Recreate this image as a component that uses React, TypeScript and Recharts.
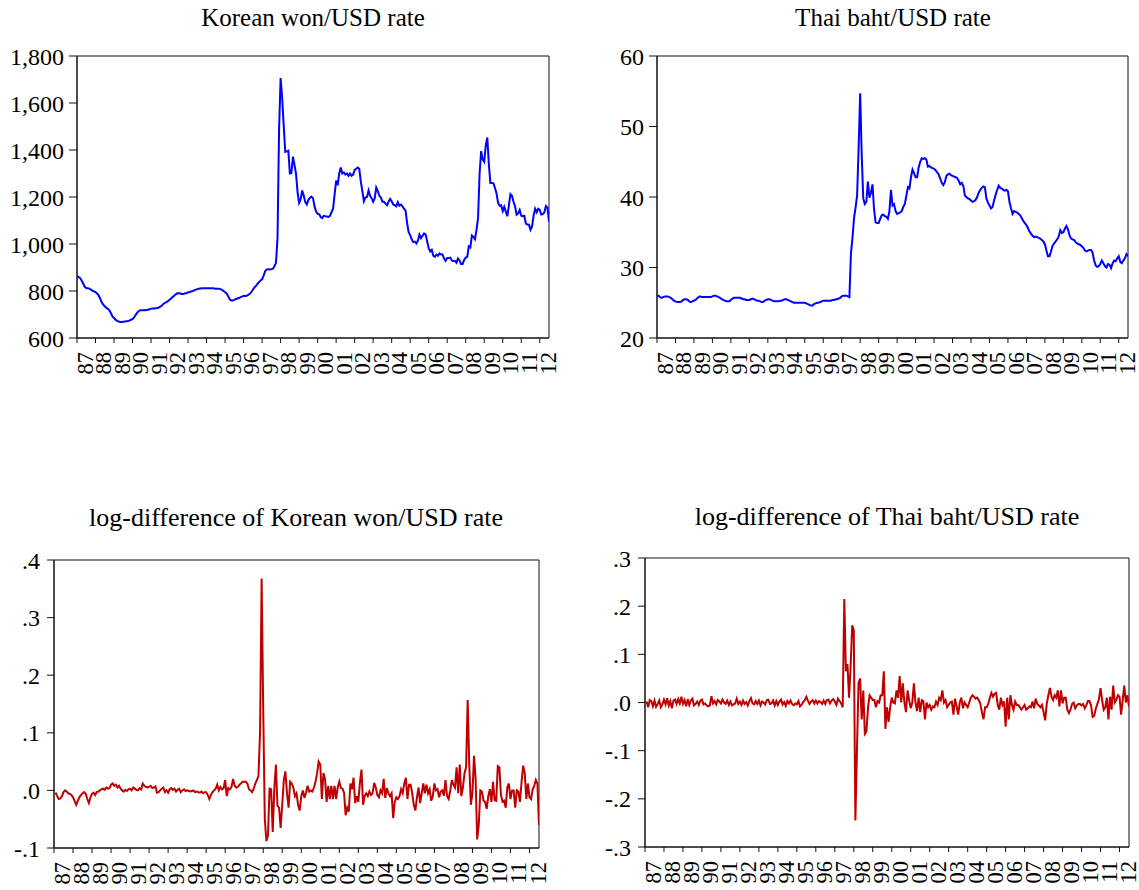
import React from 'react';
import { LineChart, Line, XAxis, YAxis, ReferenceArea } from 'recharts';

const FONT = '"Liberation Serif", "Times New Roman", serif';

const yearLabels = ['87','88','89','90','91','92','93','94','95','96','97','98','99','00','01','02','03','04','05','06','07','08','09','10','11','12'];
const yearTicks = [0,12,24,36,48,60,72,84,96,108,120,132,144,156,168,180,192,204,216,228,240,252,264,276,288,300];

// Korean won / USD, monthly 1987M01 - 2012M07
const krwLevel = [
  862,860,855,845,832,818,813,812,810,806,802,798,
  795,790,782,768,752,742,735,728,724,718,705,692,
  685,678,673,670,668,668,669,670,671,672,674,678,
  680,688,698,708,714,718,718,718,718,719,720,722,
  725,726,726,727,728,730,733,738,745,750,753,757,
  763,768,774,780,786,790,790,789,787,787,790,790,
  795,796,798,800,803,806,808,810,811,812,812,812,
  812,812,812,812,812,811,810,810,810,808,805,800,
  795,790,778,765,760,760,762,766,768,770,774,776,
  780,779,780,783,788,795,805,815,822,830,838,845,
  850,865,885,892,893,892,893,895,905,920,1025,1484,
  1706,1623,1505,1392,1394,1397,1300,1302,1372,1336,1298,1220,
  1175,1190,1228,1205,1178,1168,1188,1196,1202,1195,1160,1138,
  1128,1127,1115,1110,1120,1118,1117,1115,1120,1135,1150,1210,
  1270,1250,1300,1326,1300,1305,1295,1300,1290,1300,1290,1295,
  1315,1320,1325,1320,1265,1225,1182,1198,1200,1228,1205,1195,
  1180,1195,1240,1225,1205,1198,1180,1180,1172,1165,1180,1192,
  1182,1168,1165,1160,1178,1163,1168,1160,1150,1142,1090,1050,
  1038,1020,1008,1010,1002,1014,1040,1025,1035,1045,1040,1012,
  982,968,975,950,945,955,950,960,955,955,938,928,
  940,940,942,930,928,928,920,938,930,915,915,932,
  942,945,990,985,1036,1030,1020,1060,1110,1300,1395,1360,
  1350,1420,1453,1340,1260,1260,1258,1238,1215,1175,1163,1165,
  1140,1158,1138,1118,1165,1212,1205,1180,1160,1125,1130,1145,
  1120,1118,1120,1087,1083,1082,1060,1075,1120,1150,1135,1150,
  1145,1125,1127,1135,1162,1155,1095,
];

// Thai baht / USD, monthly 1987M01 - 2012M07
const thbLevel = [
  26.0,26.0,25.8,25.7,25.8,25.9,25.9,25.9,25.8,25.7,25.5,25.3,
  25.2,25.1,25.1,25.1,25.2,25.4,25.5,25.5,25.4,25.2,25.1,25.2,
  25.3,25.4,25.6,25.8,25.9,25.8,25.8,25.8,25.8,25.8,25.8,25.8,
  25.9,26.0,26.0,25.9,25.8,25.7,25.5,25.4,25.3,25.2,25.2,25.2,
  25.4,25.6,25.7,25.7,25.7,25.7,25.7,25.6,25.5,25.5,25.4,25.4,
  25.4,25.5,25.6,25.5,25.4,25.3,25.3,25.2,25.1,25.1,25.3,25.4,
  25.5,25.5,25.4,25.3,25.2,25.2,25.2,25.2,25.3,25.3,25.4,25.5,
  25.5,25.4,25.3,25.2,25.1,25.0,25.0,25.0,25.0,25.0,25.0,25.0,
  25.0,24.9,24.8,24.7,24.6,24.6,24.8,24.9,25.0,25.0,25.1,25.2,
  25.3,25.3,25.3,25.3,25.3,25.3,25.4,25.4,25.5,25.5,25.6,25.7,
  25.9,26.0,26.0,26.0,25.9,25.8,32.0,34.2,37.0,38.5,40.2,47.0,
  54.7,46.0,39.8,39.0,39.3,42.2,39.9,40.6,41.8,38.3,36.4,36.3,
  36.3,36.9,37.4,37.5,37.3,37.2,36.9,38.0,41.0,38.8,39.0,38.0,
  37.6,37.7,37.8,38.0,38.6,39.0,40.2,41.4,41.2,42.8,43.9,43.4,
  42.8,42.8,44.2,45.0,45.5,45.4,45.5,45.3,44.3,44.4,44.2,44.1,
  44.0,43.8,43.5,43.2,42.6,42.0,41.7,42.1,43.0,43.2,43.3,43.1,
  43.0,42.9,42.8,42.7,42.3,41.8,42.0,41.6,40.2,40.0,39.8,39.7,
  39.5,39.3,39.4,39.6,40.0,40.6,41.0,41.3,41.5,41.4,39.8,39.2,
  38.8,38.4,38.6,39.5,40.3,41.0,41.6,41.3,41.2,41.0,40.9,41.0,
  40.8,39.3,38.4,37.6,38.0,37.9,37.8,37.6,37.4,37.0,36.6,36.3,
  36.0,35.6,35.1,34.8,34.5,34.3,34.4,34.3,34.2,34.1,33.9,33.7,
  33.3,32.4,31.6,31.6,32.3,33.1,33.4,33.7,34.0,34.4,35.3,34.9,
  35.0,35.5,35.9,35.4,34.6,34.1,34.0,33.9,33.6,33.4,33.3,33.2,
  33.0,32.8,32.4,32.3,32.4,32.5,32.5,32.1,31.0,30.3,30.1,30.2,
  30.5,31.0,30.6,30.2,30.0,30.5,30.4,29.9,30.6,31.0,30.9,31.3,
  31.6,30.8,30.6,31.0,31.3,31.9,31.6,
];

// log-difference of Korean won / USD, 1987M02 - 2012M07
const krwDiff = [
  -0.004,-0.010,-0.015,-0.014,-0.010,-0.003,0.000,-0.002,-0.005,-0.006,-0.008,
  -0.012,-0.018,-0.025,-0.018,-0.012,-0.008,-0.005,-0.003,-0.006,-0.015,-0.022,-0.012,
  -0.006,-0.004,-0.008,-0.003,-0.002,0.000,0.002,0.003,0.001,0.005,0.003,0.004,
  0.010,0.012,0.008,0.010,0.005,0.008,0.003,0.000,-0.002,0.001,-0.001,0.002,
  0.003,0.000,0.005,0.003,0.001,0.000,0.004,0.002,0.012,0.008,0.006,0.005,
  0.006,0.008,0.004,0.005,0.007,-0.004,-0.003,0.000,0.003,0.005,-0.003,0.000,
  -0.004,0.002,0.004,0.001,0.003,-0.002,0.001,0.003,-0.003,0.000,0.002,-0.001,
  0.000,-0.001,-0.002,-0.001,0.000,-0.003,-0.002,-0.003,-0.004,-0.002,-0.005,-0.003,
  -0.003,-0.008,-0.015,-0.008,-0.003,0.000,0.003,0.010,0.000,0.006,0.002,0.004,
  0.018,-0.010,0.004,0.002,0.006,0.020,0.008,0.005,0.006,0.010,0.012,0.015,
  0.015,0.015,0.012,0.002,0.000,-0.003,0.003,0.012,0.018,0.025,0.100,0.368,
  0.140,-0.050,-0.088,-0.078,0.003,0.002,-0.072,0.002,0.045,-0.027,-0.030,-0.065,
  -0.025,0.018,0.033,-0.005,-0.030,0.015,0.012,0.005,-0.010,-0.005,-0.025,-0.035,
  -0.010,0.000,-0.013,-0.004,0.008,-0.002,0.000,-0.002,0.005,0.015,0.030,0.050,
  0.045,-0.015,0.030,0.020,-0.020,0.008,-0.015,0.008,-0.015,0.008,-0.015,0.005,
  0.015,0.004,0.003,-0.004,-0.043,-0.030,-0.037,0.012,0.002,0.022,-0.022,-0.010,
  -0.020,0.013,0.036,-0.025,-0.010,-0.005,-0.010,-0.002,-0.008,-0.005,0.013,0.005,
  -0.008,-0.012,0.000,-0.005,0.020,-0.013,0.004,-0.005,-0.010,-0.005,-0.048,-0.020,
  -0.012,-0.015,-0.010,0.002,-0.005,0.012,0.022,-0.015,0.010,0.010,-0.005,-0.025,
  -0.035,-0.012,0.005,-0.022,-0.005,0.012,-0.005,0.010,-0.005,0.002,-0.018,-0.010,
  0.012,0.000,0.002,-0.012,-0.002,0.000,-0.009,0.018,-0.010,-0.015,0.000,0.018,
  0.010,0.005,0.040,-0.005,0.045,-0.010,0.005,0.030,0.040,0.157,0.045,-0.025,
  -0.005,0.060,0.020,-0.085,-0.060,0.000,-0.002,-0.018,-0.020,-0.032,-0.010,0.002,
  -0.020,0.015,-0.017,-0.018,0.042,0.040,-0.008,-0.020,-0.018,-0.030,0.005,0.012,
  -0.015,0.000,0.000,-0.030,0.000,-0.002,-0.020,0.015,0.043,0.030,-0.015,0.012,
  -0.012,-0.015,0.002,0.008,0.018,0.012,-0.060,
];

// log-difference of Thai baht / USD, 1987M02 - 2012M07
const thbDiff = [
  0.002,-0.010,0.005,0.003,-0.008,0.004,-0.009,-0.003,0.004,-0.010,-0.004,
  0.006,-0.004,0.009,-0.006,0.003,-0.012,0.004,0.006,-0.003,0.007,-0.002,0.012,
  -0.003,0.005,-0.008,0.007,-0.005,0.004,0.008,-0.006,-0.003,0.002,-0.005,0.004,
  0.006,-0.004,-0.002,-0.006,-0.008,-0.006,0.013,-0.002,0.003,-0.004,0.005,0.002,
  -0.002,0.006,0.000,-0.003,0.004,-0.005,0.002,-0.006,-0.004,-0.002,0.008,-0.003,
  0.002,-0.005,0.004,-0.003,0.001,-0.006,0.003,0.009,-0.002,-0.004,0.003,-0.003,
  0.004,-0.006,0.002,0.000,-0.004,0.005,0.006,-0.003,-0.002,0.004,-0.006,0.003,
  -0.005,0.002,0.006,-0.004,0.001,-0.007,0.003,-0.002,0.004,-0.003,-0.006,-0.002,
  -0.004,0.003,-0.008,-0.005,0.001,0.005,0.012,0.004,-0.003,0.002,0.005,-0.002,
  0.004,-0.002,0.003,0.001,-0.003,0.004,-0.003,0.005,0.006,-0.002,0.004,0.007,
  0.002,-0.005,0.008,0.003,-0.002,-0.010,0.215,0.065,0.080,0.010,0.075,0.160,
  0.150,-0.245,-0.100,0.040,0.050,-0.035,0.025,-0.065,-0.060,-0.010,0.015,0.010,
  0.005,0.005,-0.010,0.003,0.000,0.015,0.015,0.065,-0.055,-0.010,-0.040,-0.010,
  0.010,0.000,-0.002,0.025,0.010,0.055,0.000,0.040,0.000,-0.020,0.025,0.005,
  -0.012,0.000,0.040,0.000,-0.018,0.010,-0.020,0.005,0.003,-0.035,0.000,-0.010,
  -0.005,-0.015,-0.008,-0.010,0.002,-0.005,0.010,0.005,0.025,0.000,0.005,-0.010,
  -0.005,0.000,0.002,-0.025,0.008,-0.008,-0.025,0.000,0.010,-0.012,0.000,-0.005,
  -0.010,0.000,0.010,0.015,0.012,0.008,0.010,0.005,-0.002,-0.020,-0.035,-0.010,
  -0.010,-0.003,0.010,0.020,0.012,0.018,0.020,-0.005,-0.015,0.010,-0.005,0.002,
  -0.050,0.010,-0.035,0.015,-0.005,-0.015,0.002,-0.005,-0.005,-0.010,-0.015,-0.010,
  -0.005,-0.015,-0.012,-0.008,-0.010,0.002,-0.012,0.008,-0.003,-0.006,-0.010,-0.005,
  -0.020,-0.037,-0.003,0.015,0.030,0.012,0.005,0.015,0.010,0.025,-0.008,0.025,
  -0.002,0.010,0.010,-0.015,-0.022,-0.015,-0.003,0.000,-0.012,-0.006,-0.003,-0.003,
  -0.006,-0.003,-0.012,-0.006,0.003,0.003,-0.006,-0.030,-0.028,-0.013,-0.003,0.007,
  0.030,0.005,-0.015,-0.010,0.010,-0.035,0.012,-0.015,0.035,0.000,0.006,0.015,
  0.012,-0.025,0.005,0.035,0.000,0.015,-0.008,
];

const krwTicks = [600, 800, 1000, 1200, 1400, 1600, 1800];
const thbTicks = [20, 30, 40, 50, 60];
const krwDiffTicks = [-0.1, 0, 0.1, 0.2, 0.3, 0.4];
const thbDiffTicks = [-0.3, -0.2, -0.1, 0, 0.1, 0.2, 0.3];

const toRows = (vals: number[], start: number) => vals.map((v, i) => ({ t: start + i, v }));

const fmtComma = (v: number) => v.toLocaleString('en-US');
const fmtDot = (v: number) => {
  const s = Math.abs(v).toFixed(1).replace(/^0/, '');
  return v < -1e-9 ? '-' + s : s;
};

const W = 1139;
const H = 890;
const X_MAX = 306;
const X_AXIS_H = 40;
const Y_AXIS_W = 70;

type PanelProps = {
  rect: [number, number, number, number];
  data: { t: number; v: number }[];
  color: string;
  domain: [number, number];
  yTicks: number[];
  fmt: (v: number) => string;
  yTickSize: number;
  yTickMargin: number;
  yFont: number;
};

function Panel({ rect, data, color, domain, yTicks, fmt, yTickSize, yTickMargin, yFont }: PanelProps) {
  const [l, t, r, b] = rect;
  const yw = ((r - l) / X_MAX) * 12;
  const labelY = b + 14;
  const renderXTick = (props: any) => {
    const { x, payload } = props;
    const idx = Math.round(payload.value / 12);
    const cx = x + yw / 2 - 1;
    return (
      <text
        transform={`translate(${cx},${labelY}) rotate(-90)`}
        textAnchor="end"
        dominantBaseline="central"
        fontSize={22.5}
        fontFamily={FONT}
        fill="#000"
      >
        {yearLabels[idx]}
      </text>
    );
  };
  return (
    <div style={{ position: 'absolute', left: 0, top: 0 }}>
      <LineChart
        width={W}
        height={H}
        data={data}
        margin={{ left: l - Y_AXIS_W, top: t, right: W - r, bottom: H - b - X_AXIS_H }}
      >
        <XAxis
          type="number"
          dataKey="t"
          domain={[0, X_MAX]}
          ticks={yearTicks}
          interval={0}
          height={X_AXIS_H}
          tickSize={5}
          tickLine={{ stroke: '#111' }}
          axisLine={{ stroke: '#111' }}
          tick={renderXTick}
          allowDataOverflow
        />
        <YAxis
          type="number"
          domain={domain}
          ticks={yTicks}
          interval={0}
          width={Y_AXIS_W}
          tickSize={yTickSize}
          tickMargin={yTickMargin}
          tickLine={{ stroke: '#111' }}
          axisLine={{ stroke: '#111' }}
          tick={{ fontSize: yFont, fontFamily: FONT, fill: '#000' }}
          tickFormatter={fmt}
          allowDataOverflow
        />
        <ReferenceArea x1={0} x2={X_MAX} y1={domain[0]} y2={domain[1]} fill="none" stroke="#111" strokeWidth={1} />
        <Line
          type="linear"
          dataKey="v"
          stroke={color}
          strokeWidth={2}
          dot={false}
          activeDot={false}
          isAnimationActive={false}
        />
      </LineChart>
    </div>
  );
}

export default function App() {
  return (
    <div style={{ position: 'absolute', left: 0, top: 0, width: W, height: H, background: '#fff', overflow: 'hidden' }}>
      <Panel rect={[77, 56, 549, 338]} data={toRows(krwLevel, 0)} color="#0000FF" domain={[600, 1800]} yTicks={krwTicks} fmt={fmtComma} yTickSize={8} yTickMargin={5} yFont={24} />
      <Panel rect={[657, 56, 1128, 338]} data={toRows(thbLevel, 0)} color="#0000FF" domain={[20, 60]} yTicks={thbTicks} fmt={(v) => String(v)} yTickSize={8} yTickMargin={5} yFont={24} />
      <Panel rect={[54, 560, 539, 848]} data={toRows(krwDiff, 1)} color="#C00000" domain={[-0.1, 0.4]} yTicks={krwDiffTicks} fmt={fmtDot} yTickSize={7} yTickMargin={7} yFont={24} />
      <Panel rect={[645, 558, 1129, 847]} data={toRows(thbDiff, 1)} color="#C00000" domain={[-0.3, 0.3]} yTicks={thbDiffTicks} fmt={fmtDot} yTickSize={7} yTickMargin={7} yFont={24} />
      <svg width={W} height={H} style={{ position: 'absolute', left: 0, top: 0, pointerEvents: 'none' }}>
        <text x={313} y={26} textAnchor="middle" fontSize={25} fontFamily={FONT} fill="#000">Korean won/USD rate</text>
        <text x={893} y={26} textAnchor="middle" fontSize={25} fontFamily={FONT} fill="#000">Thai baht/USD rate</text>
        <text x={296} y={526} textAnchor="middle" fontSize={26} fontFamily={FONT} fill="#000">log-difference of Korean won/USD rate</text>
        <text x={887} y={525} textAnchor="middle" fontSize={26} fontFamily={FONT} fill="#000">log-difference of Thai baht/USD rate</text>
      </svg>
    </div>
  );
}
